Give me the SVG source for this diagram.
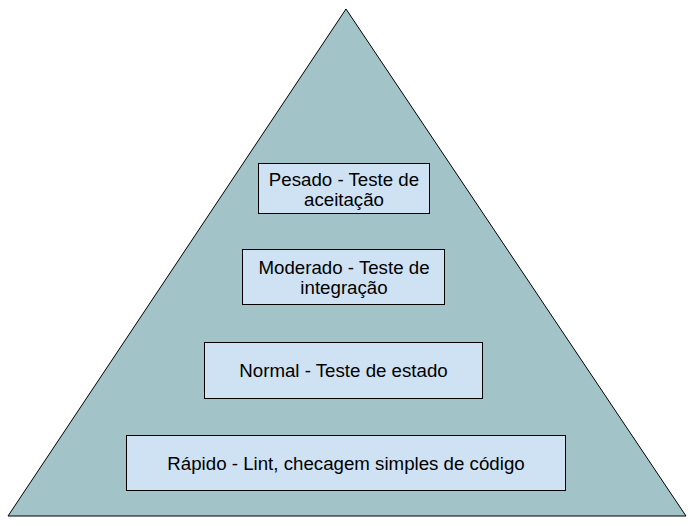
<svg xmlns="http://www.w3.org/2000/svg" width="690" height="526" viewBox="0 0 690 526">
<style>
.box{fill:#cfe2f3;stroke:#000;stroke-width:1}
.t{font-family:"Liberation Sans",Arial,sans-serif;font-size:18.7px;fill:#000;text-anchor:middle}
</style>
<rect width="690" height="526" fill="#fff"/>
<g id="pyramid"><polygon points="346,9 8,516 686,516" fill="#a2c4c9" stroke="#000" stroke-width="1"/></g>
<g id="pesado"><rect class="box" x="258.5" y="163.5" width="171" height="50"/><text class="t" x="344" y="185.5">Pesado - Teste de</text><text class="t" x="344" y="206">aceitação</text></g>
<g id="moderado"><rect class="box" x="242.5" y="249.5" width="202" height="55"/><text class="t" x="344" y="273.5">Moderado - Teste de</text><text class="t" x="344" y="294">integração</text></g>
<g id="normal"><rect class="box" x="204.5" y="342.5" width="278" height="56"/><text class="t" x="343.5" y="377">Normal - Teste de estado</text></g>
<g id="rapido"><rect class="box" x="126.5" y="435.5" width="439" height="55"/><text class="t" x="346" y="470">Rápido - Lint, checagem simples de código</text></g>
<g id="connectors"></g>
</svg>
